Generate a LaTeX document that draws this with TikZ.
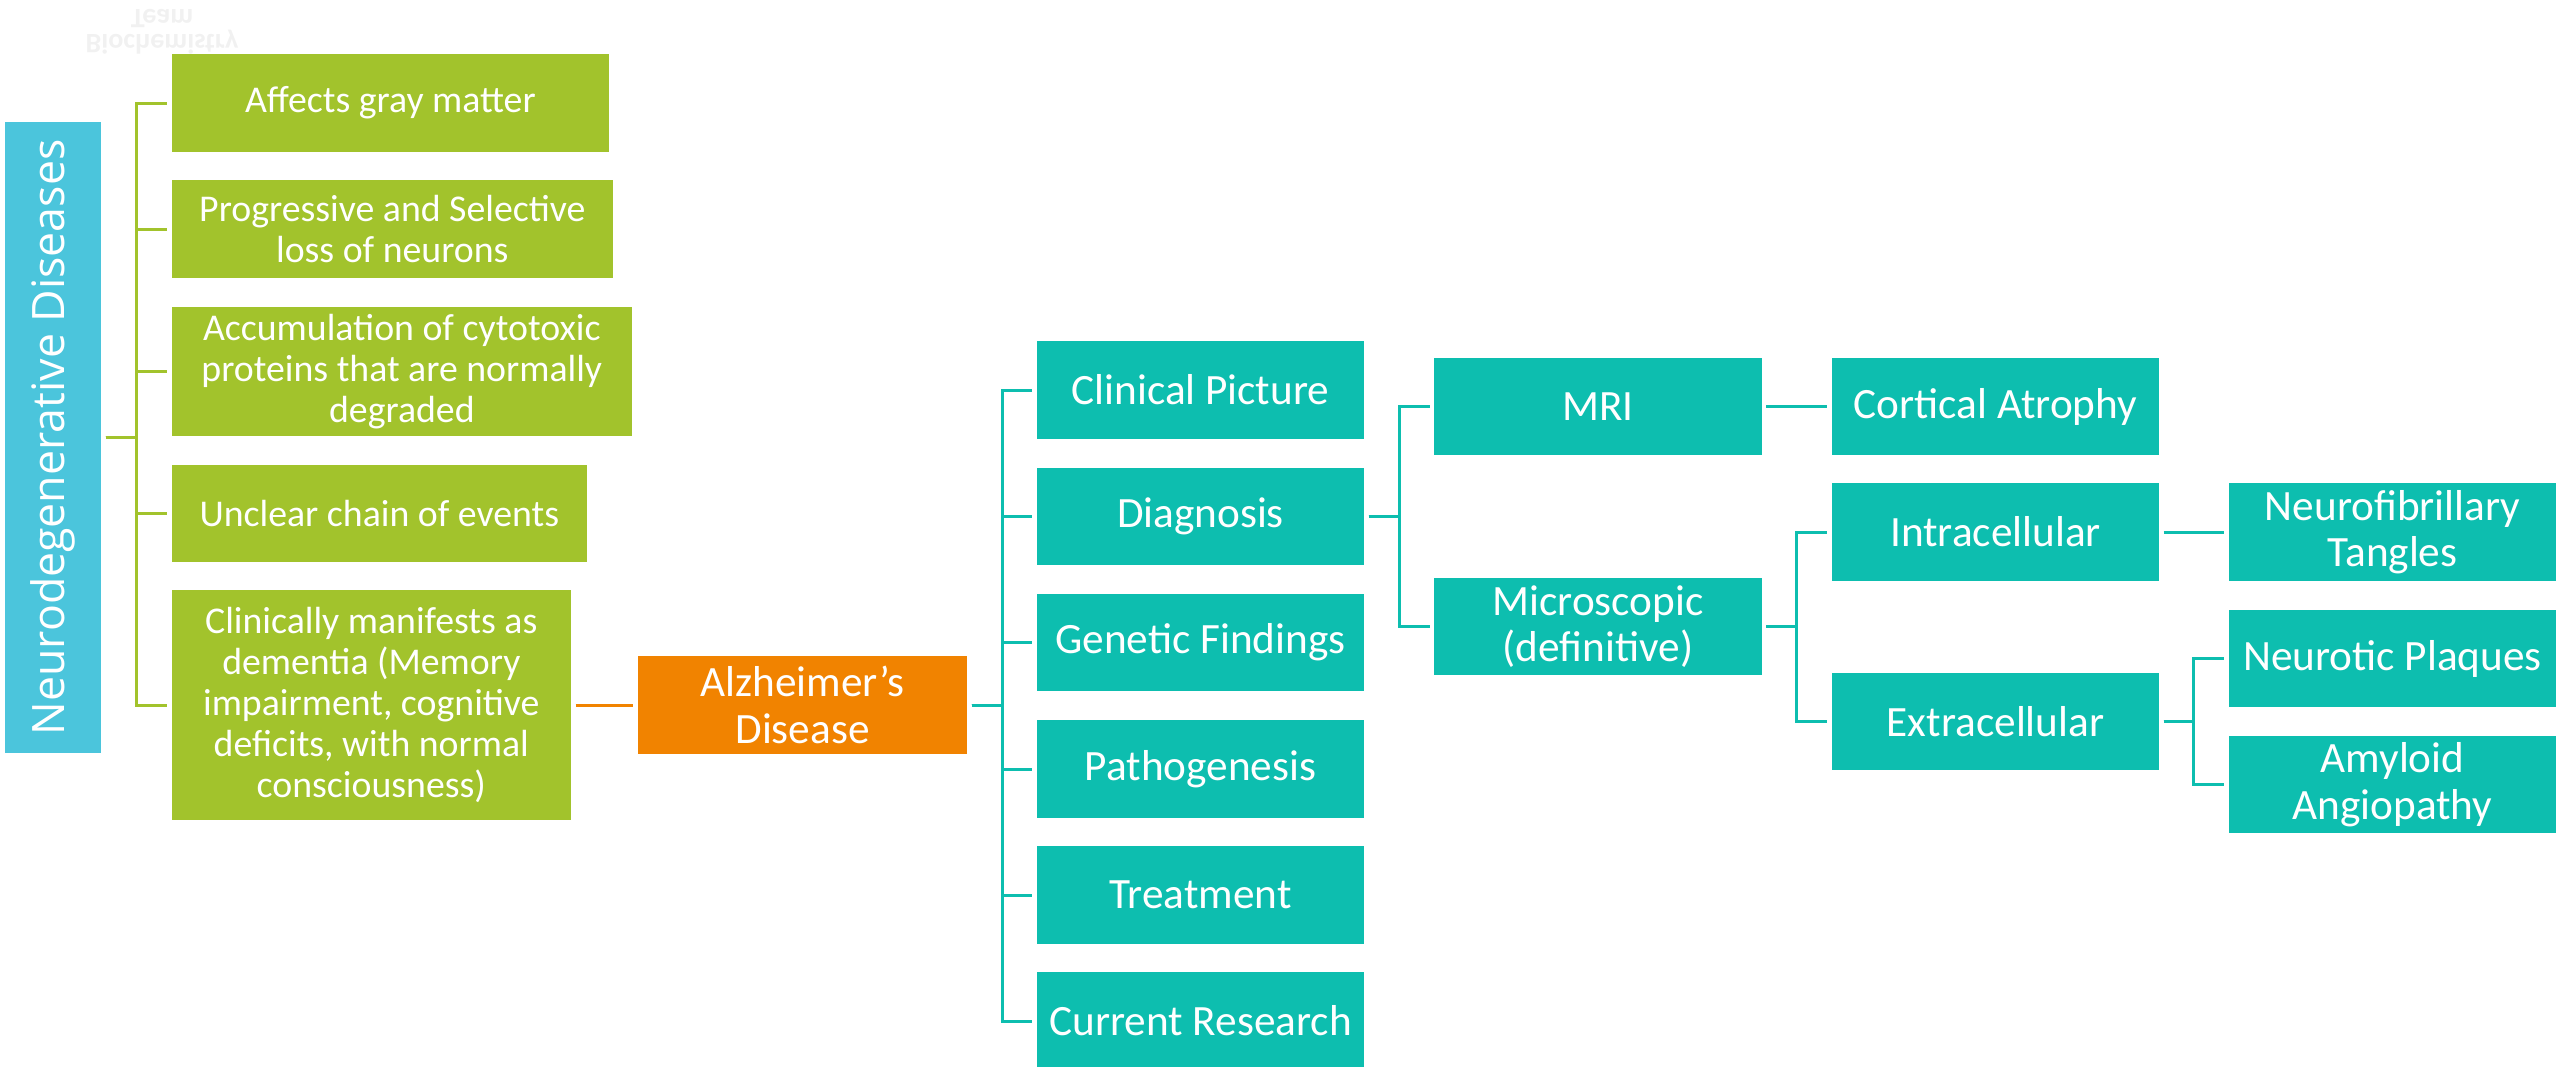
\documentclass[tikz,border=0pt]{standalone}
\usepackage{fontspec}
\setmainfont{Carlito}
\newfontfamily\titlefont{Open Sans}
\definecolor{cblue}{HTML}{4BC5DC}
\definecolor{cgreen}{HTML}{A2C32C}
\definecolor{corange}{HTML}{F18300}
\definecolor{cteal}{HTML}{0DBEAF}
\definecolor{cghost}{HTML}{F1F1F1}
\tikzset{
  box/.style={fill=#1, text=white, align=center, inner sep=0pt},
  box/.default=cteal,
  gbox/.style={box=cgreen, anchor=west, font=\fontsize{10.75}{11.6}\selectfont},
  tbox/.style={box=#1, minimum width=3.27cm, minimum height=0.97cm, font=\fontsize{12.3}{13.2}\selectfont},
  tbox/.default=cteal,
  link/.style={draw=#1, line width=0.85pt, shorten <=1.1pt, shorten >=1.1pt},
  link/.default=cteal,
}

\begin{document}
\begin{tikzpicture}[x=0.01cm, y=-0.01cm]
  \useasboundingbox (0,0) rectangle (2560,1066);
  % faint mirrored watermark
  \node[text=cghost, font=\bfseries\fontsize{8}{7.2}\selectfont, align=center, yscale=-1, transform shape] (ghost) at (162,32) {Biochemistry\\Team};
  % neurodegenerative diseases
  \node[box=cblue, minimum width=0.96cm, minimum height=6.31cm] (neuro) at (53,437.5) {};
  \node[rotate=90, text=white, font=\titlefont\fontsize{12.7}{14}\selectfont] (neurolbl) at (neuro.center) {Neurodegenerative Diseases};
  \node[gbox, minimum width=4.37cm, minimum height=0.98cm] (g1) at (171,103) {Affects gray matter};
  \node[gbox, minimum width=4.41cm, minimum height=0.97cm] (g2) at (171,229) {Progressive and Selective\\loss of neurons};
  \node[gbox, minimum width=4.60cm, minimum height=1.29cm] (g3) at (171,371.5) {Accumulation of cytotoxic\\proteins that are normally\\degraded};
  \node[gbox, minimum width=4.15cm, minimum height=0.97cm] (g4) at (171,513.5) {Unclear chain of events};
  \node[gbox, minimum width=3.99cm, minimum height=2.30cm] (g5) at (171,705) {Clinically manifests as\\dementia (Memory\\impairment, cognitive\\deficits, with normal\\consciousness)};
  \foreach \i in {1,...,5} {
    \draw[link=cgreen] (neuro.east) -- ++(35,0) |- (g\i.west);
  }
  % alzheimer's disease
  \node[tbox=corange, minimum width=3.29cm, minimum height=0.98cm] (alz) at (802.5,705) {Alzheimer’s\\Disease};
  \draw[link=corange] (g5.east) -- (alz.west);
  \foreach \n/\t/\y in {cp/Clinical Picture/390, diag/Diagnosis/516.5, gen/Genetic Findings/642.5, patho/Pathogenesis/769, treat/Treatment/895, res/Current Research/1021} {
    \node[tbox] (\n) at (1200.5,\y) {\t};
    \draw[link] (alz.east) -- ++(35,0) |- (\n.west);
  }
  % diagnosis
  \node[tbox] (mri) at (1598,406.5) {MRI};
  \node[tbox] (micro) at (1598,626.5) {Microscopic\\(definitive)};
  \draw[link] (diag.east) -- ++(35,0) |- (mri.west);
  \draw[link] (diag.east) -- ++(35,0) |- (micro.west);
  \node[tbox] (atrophy) at (1995.5,406.5) {Cortical Atrophy};
  \draw[link] (mri.east) -- (atrophy.west);
  % microscopic findings
  \node[tbox] (intra) at (1995.5,532) {Intracellular};
  \node[tbox] (extra) at (1995.5,721.5) {Extracellular};
  \draw[link] (micro.east) -- ++(34,0) |- (intra.west);
  \draw[link] (micro.east) -- ++(34,0) |- (extra.west);
  \node[tbox] (tangles) at (2392.5,532) {Neurofibrillary\\Tangles};
  \draw[link] (intra.east) -- (tangles.west);
  \node[tbox] (plaques) at (2392.5,658.5) {Neurotic Plaques};
  \node[tbox] (amyloid) at (2392.5,784.5) {Amyloid\\Angiopathy};
  \draw[link] (extra.east) -- ++(34,0) |- (plaques.west);
  \draw[link] (extra.east) -- ++(34,0) |- (amyloid.west);
\end{tikzpicture}
\end{document}
